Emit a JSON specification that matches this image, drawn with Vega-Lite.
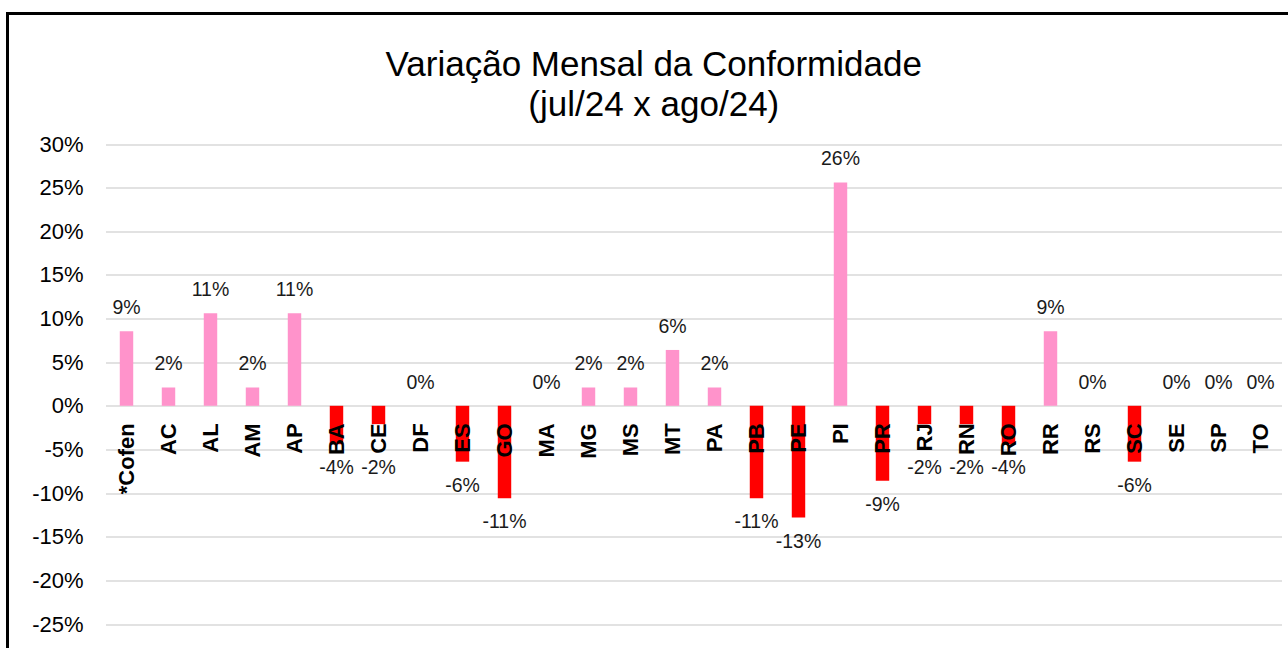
{
  "$schema": "https://vega.github.io/schema/vega-lite/v6.json",
  "width": 1280.5,
  "height": 634.5,
  "autosize": {"type": "none"},
  "padding": {"left": 7.5, "top": 13.5, "right": 0, "bottom": 0},
  "background": "white",
  "config": {
    "locale": {"number": {"decimal": ".", "thousands": ",", "grouping": [3], "currency": ["", ""], "minus": "-", "percent": "%"}},
    "view": {"stroke": "#000000", "strokeWidth": 3, "strokeDash": [1281, 1914, 700], "fill": "white"},
    "font": "Liberation Sans"
  },
  "title": {
    "text": ["Variação Mensal da Conformidade", "(jul/24 x ago/24)"],
    "anchor": "middle",
    "frame": "group",
    "orient": "top",
    "baseline": "top",
    "offset": -109,
    "dx": 6,
    "fontSize": 35,
    "lineHeight": 40,
    "font": "Liberation Sans",
    "fontWeight": "normal",
    "color": "#000000"
  },
  "data": {
    "values": [
      {"uf": "*Cofen", "v": 0.0855},
      {"uf": "AC", "v": 0.021},
      {"uf": "AL", "v": 0.106},
      {"uf": "AM", "v": 0.021},
      {"uf": "AP", "v": 0.106},
      {"uf": "BA", "v": -0.044},
      {"uf": "CE", "v": -0.021},
      {"uf": "DF", "v": 0},
      {"uf": "ES", "v": -0.064},
      {"uf": "GO", "v": -0.106},
      {"uf": "MA", "v": 0},
      {"uf": "MG", "v": 0.021},
      {"uf": "MS", "v": 0.021},
      {"uf": "MT", "v": 0.064},
      {"uf": "PA", "v": 0.021},
      {"uf": "PB", "v": -0.106},
      {"uf": "PE", "v": -0.128},
      {"uf": "PI", "v": 0.256},
      {"uf": "PR", "v": -0.086},
      {"uf": "RJ", "v": -0.021},
      {"uf": "RN", "v": -0.021},
      {"uf": "RO", "v": -0.044},
      {"uf": "RR", "v": 0.0855},
      {"uf": "RS", "v": 0},
      {"uf": "SC", "v": -0.064},
      {"uf": "SE", "v": 0},
      {"uf": "SP", "v": 0},
      {"uf": "TO", "v": 0}
    ]
  },
  "encoding": {
    "x": {
      "field": "uf",
      "type": "nominal",
      "sort": null,
      "scale": {"range": [98, 1274], "paddingInner": 0.68, "paddingOuter": 0.34},
      "axis": {
        "title": null,
        "orient": "bottom",
        "offset": -242.2,
        "labelAngle": -90,
        "labelAlign": "right",
        "labelBaseline": "middle",
        "labelPadding": 17,
        "labelFont": "Liberation Sans",
        "labelFontSize": 22,
        "labelFontWeight": "bold",
        "labelColor": "#000000",
        "labelOverlap": false,
        "ticks": false,
        "domain": false,
        "grid": false,
        "zindex": 1
      }
    },
    "y": {
      "field": "v",
      "type": "quantitative",
      "scale": {"domain": [-0.25, 0.3], "range": [610.5, 130.5], "nice": false, "zero": false},
      "axis": {
        "title": null,
        "orient": "left",
        "offset": -98,
        "values": [-0.25, -0.2, -0.15, -0.1, -0.05, 0, 0.05, 0.1, 0.15, 0.2, 0.25, 0.3],
        "format": ".0%",
        "labelFont": "Liberation Sans",
        "labelFontSize": 22,
        "labelColor": "#000000",
        "labelPadding": 22.5,
        "ticks": false,
        "domain": false,
        "grid": true,
        "gridColor": "#D9D9D9",
        "gridWidth": 1.3
      }
    }
  },
  "layer": [
    {
      "mark": {"type": "bar"},
      "encoding": {
        "y2": {"datum": 0},
        "color": {"condition": {"test": "datum.v < 0", "value": "#FF0000"}, "value": "#FF93CB"}
      }
    },
    {
      "transform": [{"filter": "datum.v >= 0"}],
      "mark": {"type": "text", "baseline": "alphabetic", "dy": -17, "fontSize": 19.5, "font": "Liberation Sans", "color": "#1a1a1a"},
      "encoding": {"text": {"field": "v", "type": "quantitative", "format": ".0%"}}
    },
    {
      "transform": [{"filter": "datum.v <= -0.05"}],
      "mark": {"type": "text", "baseline": "top", "dy": 15, "fontSize": 19.5, "font": "Liberation Sans", "color": "#1a1a1a"},
      "encoding": {"text": {"field": "v", "type": "quantitative", "format": ".0%"}}
    },
    {
      "transform": [{"filter": "datum.v < 0 && datum.v > -0.05"}],
      "mark": {"type": "text", "baseline": "top", "dy": 15, "fontSize": 19.5, "font": "Liberation Sans", "color": "#1a1a1a"},
      "encoding": {
        "y": {"datum": -0.044},
        "text": {"field": "v", "type": "quantitative", "format": ".0%"}
      }
    }
  ]
}
